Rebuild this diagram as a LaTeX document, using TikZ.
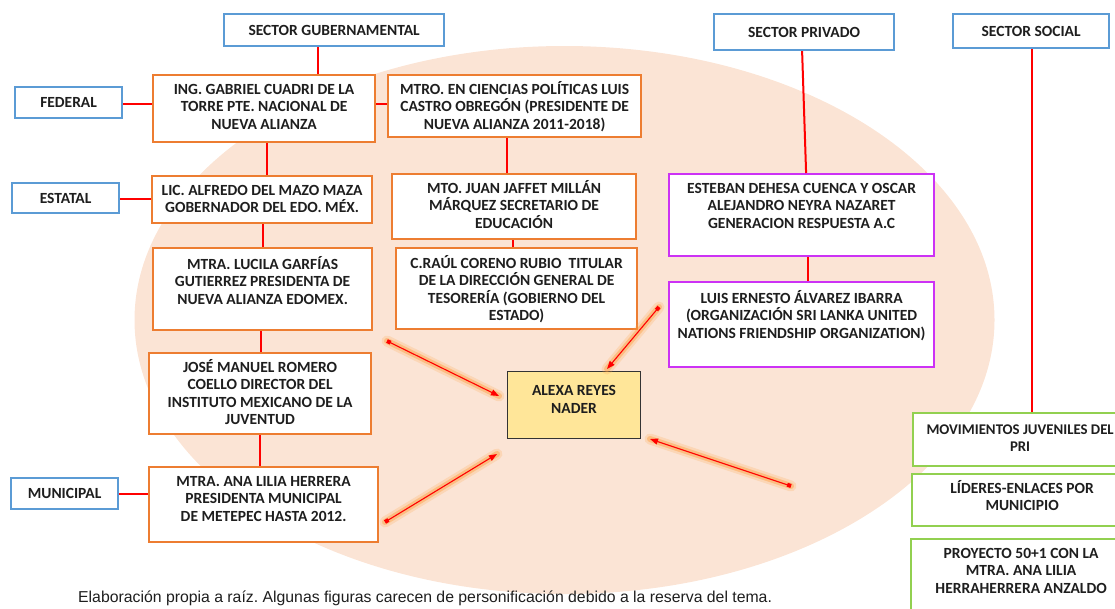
\documentclass[tikz,border=0pt]{standalone}
\usepackage{fontspec}
\setmainfont{Carlito}[BoldFont={Carlito Bold}]
\newfontfamily\capfont{Liberation Sans}
\usetikzlibrary{arrows.meta,calc}
\definecolor{ellc}{HTML}{FBE4D5}
\definecolor{orab}{HTML}{ED7D31}
\definecolor{blub}{HTML}{5B9BD5}
\definecolor{purb}{HTML}{CC32F5}
\definecolor{grnb}{HTML}{92D050}
\definecolor{yelf}{HTML}{FFE699}
\definecolor{redl}{HTML}{FF0000}
\definecolor{txtc}{HTML}{1E1E1E}
\newcommand\btx[4]{\parbox[c][#2pt][t]{#1pt}{\centering\rule{0pt}{#3pt}#4\par}}
\frenchspacing
\begin{document}
\begin{tikzpicture}[x=1pt,y=-1pt,
  box/.style={draw, inner sep=0pt, anchor=north west, line width=2.2pt, fill=white, text=txtc,
              font=\fontsize{15.5}{17.5}\selectfont\bfseries},
  obox/.style={box, draw=orab},
  bbox/.style={box, draw=blub},
  pbox/.style={box, draw=purb},
  gbox/.style={box, draw=grnb},
  ybox/.style={box, draw=black!80, line width=1pt, fill=yelf},
  conn/.style={draw=redl, line width=2pt},
  glowA/.style={line width=11pt, draw=orange!70, opacity=0.22, line cap=round},
  glowB/.style={line width=6pt, draw=orange!80, opacity=0.4, line cap=round},
  arr/.style={draw=redl, line width=1.1pt, {Square[length=4pt,width=4pt]}-{Triangle[length=8pt,width=6pt]}}
]
\useasboundingbox (0,0) rectangle (1115,608);
\clip (0,0) rectangle (1115,608);
\fill[ellc] (564.5,320) ellipse [x radius=430, y radius=274];

% sector heads
\node[bbox, minimum width=220pt, minimum height=32pt] (sg) at (223,13) {SECTOR GUBERNAMENTAL};
\node[bbox, minimum width=180pt, minimum height=36pt] (sp) at (713,13) {SECTOR PRIVADO};
\node[bbox, minimum width=156pt, minimum height=34pt] (ss) at (952,13) {SECTOR SOCIAL};
\node[bbox, minimum width=107pt, minimum height=31pt] (fed) at (14,86) {FEDERAL};
\node[bbox, minimum width=107pt, minimum height=30pt] (est) at (11,182) {ESTATAL};
\node[bbox, minimum width=107pt, minimum height=31pt] (mun) at (10,477) {MUNICIPAL};

% government boxes
\node[obox] (gab) at (152,74) {\btx{222}{67}{19}{ING. GABRIEL CUADRI DE LA\\TORRE PTE. NACIONAL DE\\NUEVA ALIANZA}};
\node[obox] (lcas) at (387,74) {\btx{253}{62}{19}{MTRO. EN CIENCIAS POLÍTICAS LUIS\\CASTRO OBREGÓN (PRESIDENTE DE\\NUEVA ALIANZA 2011-2018)}};
\node[obox] (alf) at (151,175) {\btx{220}{47}{19}{LIC. ALFREDO DEL MAZO MAZA\\GOBERNADOR DEL EDO. MÉX.}};
\node[obox] (juan) at (391,173) {\btx{244}{65}{19}{MTO. JUAN JAFFET MILLÁN\\MÁRQUEZ SECRETARIO DE\\EDUCACIÓN}};
\node[obox] (luc) at (152,247) {\btx{219}{82}{21}{MTRA. LUCILA GARFÍAS\\GUTIERREZ PRESIDENTA DE\\NUEVA ALIANZA EDOMEX.}};
\node[obox] (raul) at (395,247) {\btx{241}{81}{20}{C.RAÚL CORENO RUBIO\ \ TITULAR\\DE LA DIRECCIÓN GENERAL DE\\TESORERÍA (GOBIERNO DEL\\ESTADO)}};
\node[obox] (jose) at (148,352) {\btx{222}{81}{19}{JOSÉ MANUEL ROMERO\\COELLO DIRECTOR DEL\\INSTITUTO MEXICANO DE LA\\JUVENTUD}};
\node[obox] (ana) at (148,466) {\btx{229}{75}{19}{MTRA. ANA LILIA HERRERA\\PRESIDENTA MUNICIPAL\\DE METEPEC HASTA 2012.}};

% private boxes
\node[pbox] (esteban) at (668,173) {\btx{265}{82}{19}{ESTEBAN DEHESA CUENCA Y OSCAR\\ALEJANDRO NEYRA NAZARET\\GENERACION RESPUESTA A.C}};
\node[pbox] (lern) at (668,281) {\btx{265}{85}{21}{LUIS ERNESTO ÁLVAREZ IBARRA\\(ORGANIZACIÓN SRI LANKA UNITED\\NATIONS FRIENDSHIP ORGANIZATION)}};

% central box
\node[ybox] (alexa) at (507,371) {\btx{133}{67}{24}{ALEXA REYES\\NADER}};

% social boxes
\node[gbox, font=\fontsize{14.8}{17.5}\selectfont\bfseries] (mov) at (912,412) {\btx{214}{53}{21}{MOVIMIENTOS JUVENILES DEL\\PRI}};
\node[gbox] (lid) at (911,473) {\btx{220}{52}{19}{LÍDERES-ENLACES POR\\MUNICIPIO}};
\node[gbox] (proy) at (910,538) {\btx{220}{90}{19}{PROYECTO 50+1 CON LA\\MTRA. ANA LILIA\\HERRAHERRERA ANZALDO}};

% connectors
\draw[conn] ([xshift=-16pt]sg.south) -- ([xshift=-16pt]sg.south |- gab.north);
\draw[conn] ([yshift=-1.5pt]fed.east) -- ([yshift=-1.5pt]fed.east -| gab.west);
\draw[conn] ([yshift=2pt]lcas.west -| gab.east) -- ([yshift=2pt]lcas.west);
\draw[conn] ([xshift=3pt]gab.south) -- ([xshift=3pt]gab.south |- alf.north);
\draw[conn] ([yshift=-1pt]est.east) -- ([yshift=-1pt]est.east -| alf.west);
\draw[conn] ([xshift=1pt]alf.south) -- ([xshift=1pt]alf.south |- luc.north);
\draw[conn] ([xshift=-1.5pt]luc.south) -- ([xshift=-1.5pt]luc.south |- jose.north);
\draw[conn] (jose.south) -- (jose.south |- ana.north);
\draw[conn] ([yshift=-0.5pt]mun.east) -- ([yshift=-0.5pt]mun.east -| ana.west);
\draw[conn] ([xshift=-7.5pt]lcas.south) -- ([xshift=-7.5pt]lcas.south |- juan.north);
\draw[conn] ([xshift=-1pt]juan.south) -- ([xshift=-1pt]juan.south |- raul.north);
\draw[conn] ([xshift=-2pt]sp.south) -- ([xshift=4.5pt]esteban.north);
\draw[conn] ([xshift=6.5pt]esteban.south) -- ([xshift=6.5pt]esteban.south |- lern.north);
\draw[conn] ([xshift=1pt]ss.south) -- ([xshift=1pt]ss.south |- mov.north);

% arrows with glow
\coordinate (a1s) at (387,341); \coordinate (a1e) at (499,396);
\coordinate (a2s) at (659,307); \coordinate (a2e) at (607,369);
\coordinate (a3s) at (385,522); \coordinate (a3e) at (497,454);
\coordinate (a4s) at (791,486); \coordinate (a4e) at (650,439);
\foreach \s/\e in {a1s/a1e,a2s/a2e,a3s/a3e,a4s/a4e}{
  \draw[glowA] (\s) -- (\e);
  \draw[glowB] (\s) -- (\e);
  \draw[arr] (\s) -- (\e);
}

% caption
\node[anchor=north west, inner sep=0pt, text=txtc, font=\capfont\fontsize{15.8}{17}\selectfont] (cap) at (78,591)
  {Elaboración propia a raíz. Algunas figuras carecen de personificación debido a la reserva del tema.};
\end{tikzpicture}
\end{document}
